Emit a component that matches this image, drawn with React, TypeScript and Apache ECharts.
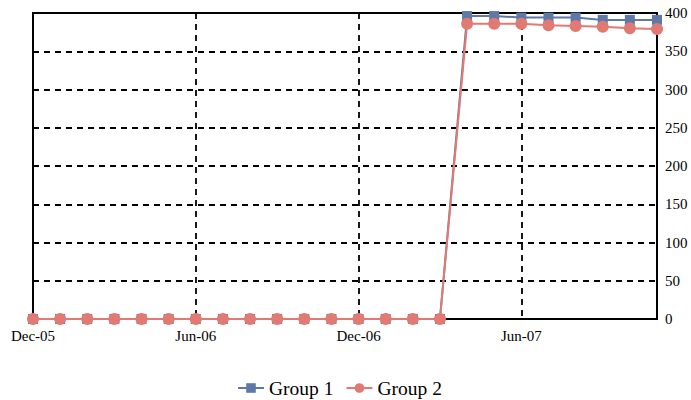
import React, { useEffect, useRef } from "react";
import * as echarts from "echarts";

const months = [
  "Dec-05", "Jan-06", "Feb-06", "Mar-06", "Apr-06", "May-06", "Jun-06", "Jul-06",
  "Aug-06", "Sep-06", "Oct-06", "Nov-06", "Dec-06", "Jan-07", "Feb-07", "Mar-07",
  "Apr-07", "May-07", "Jun-07", "Jul-07", "Aug-07", "Sep-07", "Oct-07", "Nov-07",
];
const group1 = [0, 0, 0, 0, 0, 0, 0, 0, 0, 0, 0, 0, 0, 0, 0, 0, 396, 396, 394, 394, 394, 391, 391, 391];
const group2 = [0, 0, 0, 0, 0, 0, 0, 0, 0, 0, 0, 0, 0, 0, 0, 0, 386, 386, 386, 384, 383, 382, 380, 379];
const seriesNames = ["Group 1", "Group 2"];
const yTicks = { min: 0, max: 400, interval: 50 };

const FONT = "'Liberation Serif', 'Times New Roman', Times, serif";

export default function App() {
  const ref = useRef<HTMLDivElement>(null);
  useEffect(() => {
    if (!ref.current) return;
    const chart = echarts.init(ref.current, null, { renderer: "svg" });
    chart.setOption({
      animation: false,
      textStyle: { fontFamily: FONT },
      grid: {
        left: 33, right: 34, top: 13, bottom: 81,
        show: true, borderColor: "#000", borderWidth: 2,
      },
      legend: {
        bottom: -3,
        left: 232,
        itemWidth: 26,
        itemHeight: 12,
        itemGap: 12,
        textStyle: { fontFamily: FONT, fontSize: 19.5, color: "#000" },
        data: seriesNames,
      },
      xAxis: {
        type: "category",
        data: months,
        boundaryGap: false,
        axisLine: { show: false },
        axisTick: { show: false },
        axisLabel: {
          interval: 5, color: "#000", fontFamily: FONT, fontSize: 15, margin: 9,
        },
        splitLine: {
          show: true,
          interval: 5,
          lineStyle: { color: "#000", type: [6, 5], width: 1.8 },
        },
      },
      yAxis: {
        type: "value",
        position: "right",
        min: yTicks.min,
        max: yTicks.max,
        interval: yTicks.interval,
        axisLine: { show: false },
        axisTick: { show: false },
        axisLabel: { color: "#000", fontFamily: FONT, fontSize: 15, margin: 8 },
        splitLine: { lineStyle: { color: "#000", type: [6, 5], width: 1.8 } },
      },
      series: [
        {
          name: seriesNames[0],
          type: "line",
          data: group1,
          symbol: "rect",
          symbolSize: 10,
          color: "#5E78A8",
          lineStyle: { width: 2, color: "#5E78A8" },
          itemStyle: { color: "#5E78A8" },
        },
        {
          name: seriesNames[1],
          type: "line",
          data: group2,
          symbol: "circle",
          symbolSize: 12,
          color: "#E07A72",
          lineStyle: { width: 2, color: "#E07A72" },
          itemStyle: { color: "#E07A72" },
        },
      ],
    });
    return () => chart.dispose();
  }, []);
  return <div ref={ref} style={{ width: 691, height: 400, position: "absolute", left: 0, top: 0 }} />;
}
